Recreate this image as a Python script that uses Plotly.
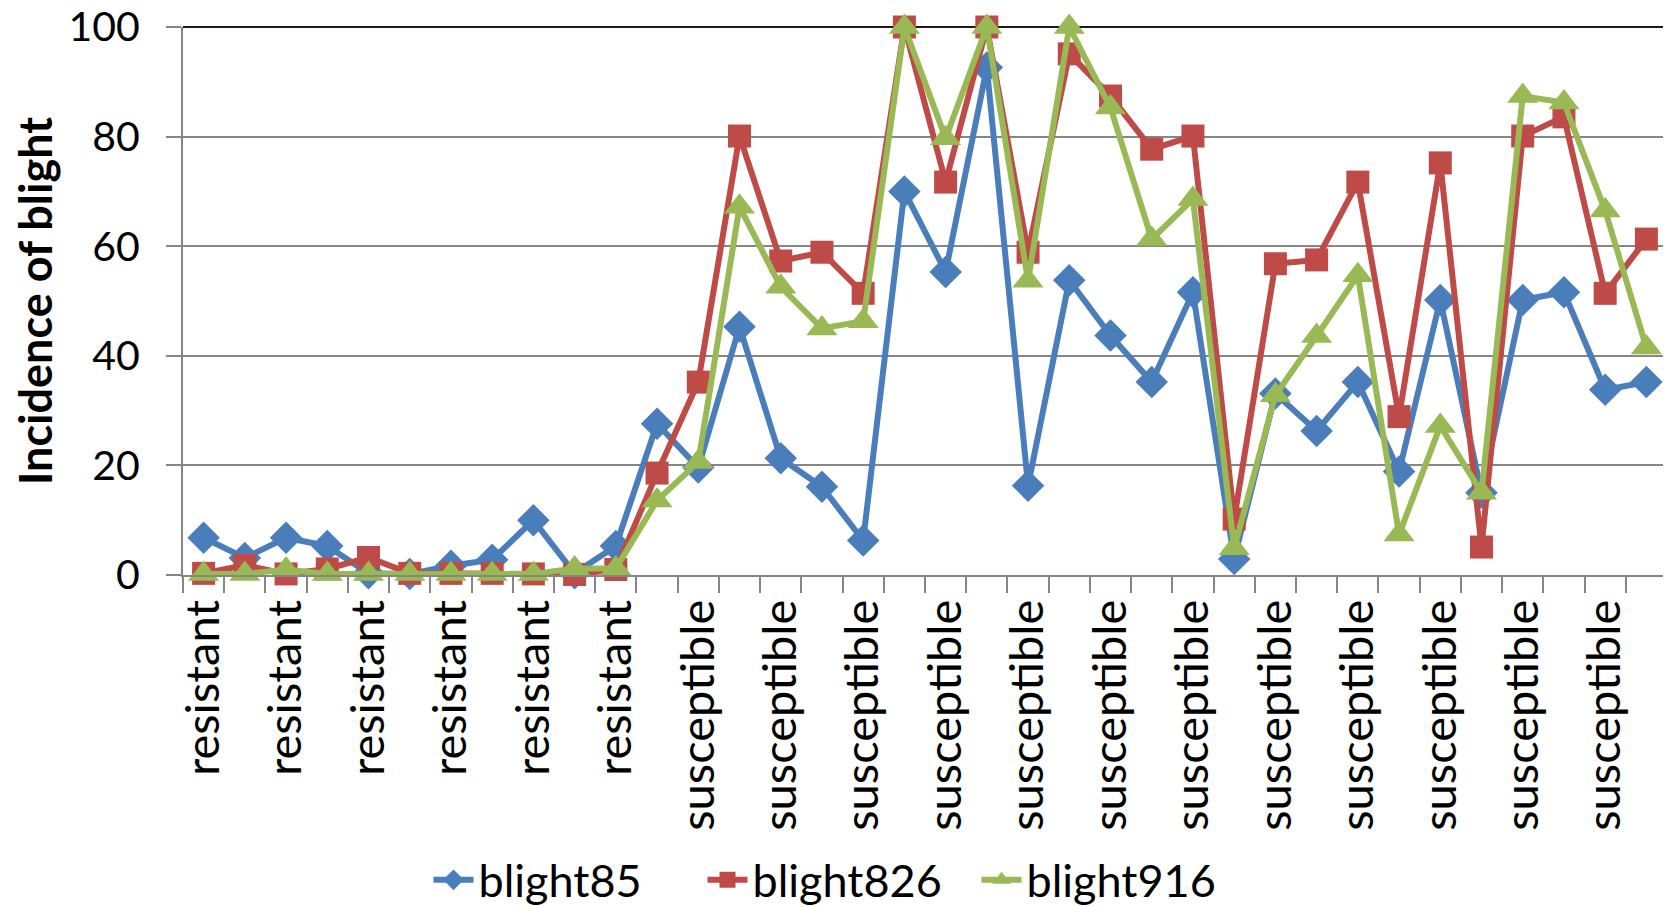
import plotly.graph_objects as go

categories = ["resistant"] * 12 + ["susceptible"] * 24

blight85 = [6.8, 3.1, 6.8, 5.3, 0.3, 0.2, 1.7, 2.8, 10.0, 0.3, 5.3, 27.6,
            19.6, 45.3, 21.3, 16.1, 6.3, 70.0, 55.3, 92.6, 16.3, 53.8, 43.7, 35.2,
            51.6, 2.9, 33.1, 26.3, 35.2, 18.9, 50.2, 15.0, 50.2, 51.6, 33.8, 35.2]
blight826 = [0.3, 1.8, 0.2, 1.1, 3.2, 0.3, 0.3, 0.3, 0.2, 0.1, 1.0, 18.6,
             35.2, 80.1, 57.3, 58.9, 51.4, 100, 71.7, 100, 58.9, 95.1, 87.4, 77.7,
             80.1, 10.2, 56.8, 57.5, 71.7, 28.9, 75.2, 5.1, 80.1, 83.6, 51.4, 61.3]
blight916 = [0.2, 0.2, 1.0, 0.2, 0.2, 0.2, 0.2, 0.2, 0.2, 1.2, 1.2, 13.6,
             20.6, 67.2, 52.6, 45.0, 46.3, 100, 79.7, 100, 53.7, 100, 85.3, 61.3,
             68.6, 4.9, 32.8, 43.6, 54.7, 7.4, 27.2, 15.0, 87.4, 86.2, 66.5, 41.5]

series = [("blight85", blight85, "#4A7EBB", "diamond", 25),
          ("blight826", blight826, "#BE4B48", "square", 23),
          ("blight916", blight916, "#98B954", "triangle-up", 27)]

FONT = "Lato"
x = list(range(len(categories)))

fig = go.Figure()
for name, vals, col, sym, sz in series:
    fig.add_trace(go.Scatter(
        x=x, y=vals, name=name, mode="lines+markers",
        line=dict(color=col, width=6),
        marker=dict(symbol=sym, size=sz, color=col, line=dict(width=0)),
        cliponaxis=False,
    ))

even = x[::2]
fig.update_layout(
    width=1663, height=899,
    paper_bgcolor="white", plot_bgcolor="white",
    margin=dict(l=175, r=4, t=19, b=332),
    font=dict(family=FONT, color="black", size=46),
    showlegend=True,
    legend=dict(orientation="h", xref="container", yref="container",
                x=0.5, xanchor="center", y=0.03, yanchor="middle",
                font=dict(size=45, family=FONT), itemwidth=40,
                entrywidth=219, entrywidthmode="pixels",
                bgcolor="rgba(0,0,0,0)"),
    xaxis=dict(range=[-0.5, 35.5], tickmode="array", tickvals=even,
               ticktext=[categories[i] for i in even], tickangle=-90,
               ticks="", ticklabelstandoff=4, showgrid=False, zeroline=False,
               showline=True, linecolor="#868686", linewidth=2,
               automargin=False, ticklabeloverflow="allow",
               tickfont=dict(size=47, family=FONT),
               minor=dict(tickmode="array", tickvals=[i - 0.5 for i in range(37)],
                          ticks="outside", ticklen=16, tickcolor="#868686",
                          tickwidth=2, showgrid=False)),
    yaxis=dict(range=[0, 100], tickmode="array", tickvals=[0, 20, 40, 60, 80, 100],
               ticks="outside", ticklen=15, tickcolor="#868686", tickwidth=2,
               ticklabelstandoff=18, automargin=False, ticklabeloverflow="allow",
               showgrid=True, gridcolor="#868686", gridwidth=2, zeroline=False,
               showline=True, linecolor="#868686", linewidth=2,
               tickfont=dict(size=41, family=FONT),
               title=dict(text="<b>Incidence of blight</b>", standoff=20,
                          font=dict(size=45, family=FONT))),
    shapes=[
        dict(type="line", xref="paper", yref="paper", x0=0, x1=1, y0=1, y1=1,
             line=dict(color="#1a1a1a", width=2), layer="below"),
        dict(type="line", xref="paper", yref="paper", x0=1, x1=1, y0=0, y1=1,
             line=dict(color="#555555", width=2), layer="below"),
    ],
)

fig.write_html("out.html")
